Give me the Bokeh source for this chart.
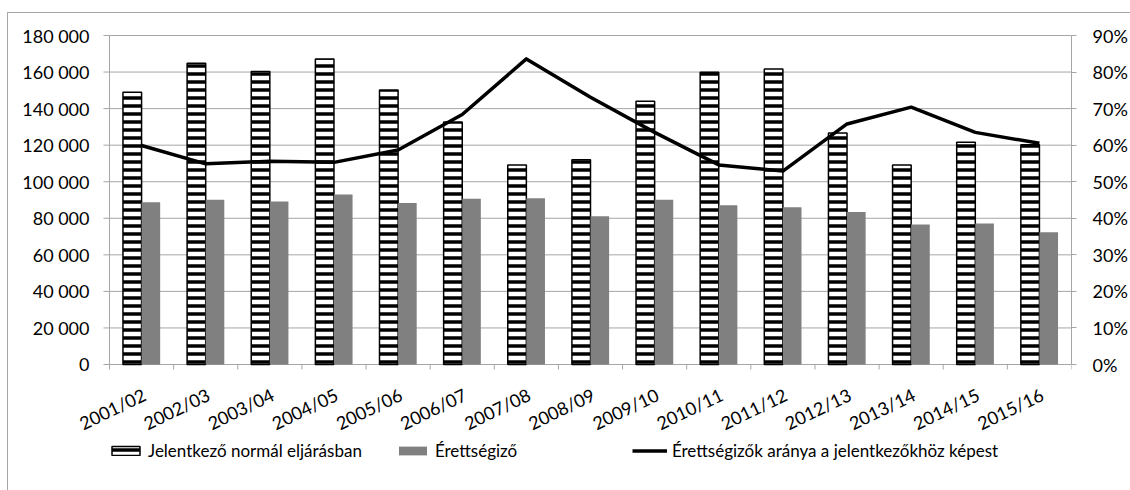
import math
from bokeh.plotting import figure
from bokeh.models import (Range1d, LinearAxis, FixedTicker, CustomJSTickFormatter,
                          Legend, LegendItem, ColumnDataSource)
from bokeh.core.properties import value
from bokeh.embed import file_html
from bokeh.resources import INLINE

# ---- data ----
years = ["2001/02", "2002/03", "2003/04", "2004/05", "2005/06", "2006/07", "2007/08",
         "2008/09", "2009/10", "2010/11", "2011/12", "2012/13", "2013/14", "2014/15", "2015/16"]
applicants = [149000, 164800, 160300, 167200, 150200, 132700, 109200, 112000,
              144000, 159900, 161700, 126700, 109200, 121600, 120200]
graduates = [88800, 90200, 89200, 93000, 88400, 90700, 91000, 81100,
             90100, 87100, 86000, 83500, 76600, 77100, 72400]
ratio = [0.599, 0.549, 0.556, 0.553, 0.587, 0.684, 0.836, 0.731,
         0.635, 0.546, 0.529, 0.658, 0.704, 0.635, 0.605]
left_ticks = [0, 20000, 40000, 60000, 80000, 100000, 120000, 140000, 160000, 180000]
left_tick_labels = ["0", "20 000", "40 000", "60 000", "80 000", "100 000",
                    "120 000", "140 000", "160 000", "180 000"]
right_ticks = [0.0, 0.1, 0.2, 0.3, 0.4, 0.5, 0.6, 0.7, 0.8, 0.9]
series_names = ["Jelentkező normál eljárásban", "Érettségiző",
                "Érettségizők aránya a jelentkezőkhöz képest"]

FONT = "Lato"
FS = "18px"
LFS = "17px"
GRID = "#a6a6a6"

# ---- layout (pixels) ----
BORDER_LEFT, BORDER_TOP = 12, 7
PLOT_W, PLOT_H = 962, 329      # the value area (x: categories, y: 0..max)
LEFT_PAD, BELOW_PAD, TOP_PAD = 89, 116, 15   # frame extension around the value area
YMAX = 180000
PCT_MAX = 0.9

n = len(years)
x_start = -n * LEFT_PAD / PLOT_W
y_start = -YMAX * BELOW_PAD / PLOT_H
y_end = YMAX * (1 + TOP_PAD / PLOT_H)
pct_start = -PCT_MAX * BELOW_PAD / PLOT_H
pct_end = PCT_MAX * (1 + TOP_PAD / PLOT_H)

bw = 0.29
centers = [i + 0.5 for i in range(n)]
bounds = list(range(n + 1))
src = ColumnDataSource(dict(
    xa=[c - bw / 2 for c in centers],
    xg=[c + bw / 2 for c in centers],
    xc=centers, cat=years,
    app=applicants, grad=graduates, ratio=ratio,
    zero=[0] * n,
))
tick_src = ColumnDataSource(dict(y=left_ticks, label=left_tick_labels,
                                 x0=[0] * len(left_ticks), x1=[n] * len(left_ticks)))

p = figure(frame_width=PLOT_W + LEFT_PAD, frame_height=PLOT_H + BELOW_PAD + TOP_PAD,
           output_backend="svg", toolbar_location=None,
           x_range=Range1d(x_start, n), y_range=Range1d(y_start, y_end),
           x_axis_location=None, y_axis_location=None,
           min_border_left=BORDER_LEFT, min_border_right=50, min_border_top=BORDER_TOP,
           min_border_bottom=10,
           outline_line_color=None,
           styles={"border-top": "1px solid #a6a6a6", "border-left": "1px solid #a6a6a6",
                   "margin-top": "12px", "margin-left": "7px"})
p.extra_y_ranges = {"pct": Range1d(pct_start, pct_end)}
p.xgrid.visible = False
p.ygrid.visible = False

# gridlines + left axis (drawn by hand so the slanted labels are not clipped)
p.segment(x0="x0", y0="y", x1="x1", y1="y", source=tick_src,
          line_color=GRID, line_width=1, level="underlay")
p.ray(x="x0", y="y", source=tick_src, length=6, length_units="screen", angle=math.pi,
      line_color=GRID, line_width=1, level="underlay")
p.segment(x0=[0], y0=[0], x1=[0], y1=[YMAX], line_color=GRID, line_width=1,
          level="underlay")
p.text(x="x0", y="y", text="label", source=tick_src, x_offset=-20,
       text_align="right", text_baseline="middle",
       text_font=value(FONT), text_font_size=FS, text_color="black")

r_app = p.vbar(x="xa", top="app", width=bw, source=src, fill_color="white",
               line_color="black", line_width=1.5,
               hatch_pattern="horizontal_line", hatch_color="black",
               hatch_scale=8, hatch_weight=3.5)
r_grad = p.vbar(x="xg", top="grad", width=bw, source=src, fill_color="#808080",
                line_color=None)
r_line = p.line(x="xc", y="ratio", source=src, y_range_name="pct",
                line_color="black", line_width=3.5, line_join="round")

# category axis ticks and labels
p.ray(x=bounds, y=[0] * len(bounds), length=5, length_units="screen",
      angle=-math.pi / 2, line_color=GRID, line_width=1)
p.text(x="xc", y="zero", text="cat", source=src, angle=math.pi / 7,
       x_offset=-2, y_offset=19, text_align="right", text_baseline="top",
       text_font=value(FONT), text_font_size=FS, text_color="black")

# right axis
ra = LinearAxis(y_range_name="pct", ticker=FixedTicker(ticks=right_ticks),
                bounds=(0, PCT_MAX),
                formatter=CustomJSTickFormatter(code="return Math.round(tick*100) + '%';"))
ra.axis_line_color = GRID
ra.major_tick_line_color = GRID
ra.major_tick_out = 5
ra.major_tick_in = 0
ra.minor_tick_line_color = None
ra.major_label_standoff = 16
ra.major_label_text_font = FONT
ra.major_label_text_font_size = FS
ra.major_label_text_color = "black"
p.add_layout(ra, "right")

# legend (inside the extended frame, below the category labels)
legend = Legend(items=[LegendItem(label=series_names[0], renderers=[r_app]),
                       LegendItem(label=series_names[1], renderers=[r_grad]),
                       LegendItem(label=series_names[2], renderers=[r_line])],
                location=(LEFT_PAD - 1, 19), orientation="horizontal",
                padding=0, margin=0, spacing=33, border_line_color=None,
                background_fill_alpha=0,
                glyph_width=35, glyph_height=11, label_height=20, label_width=164,
                label_standoff=5,
                label_text_font=FONT, label_text_font_size=LFS, label_text_color="black")
p.add_layout(legend, "center")

open("out.html", "w").write(file_html(p, INLINE))
